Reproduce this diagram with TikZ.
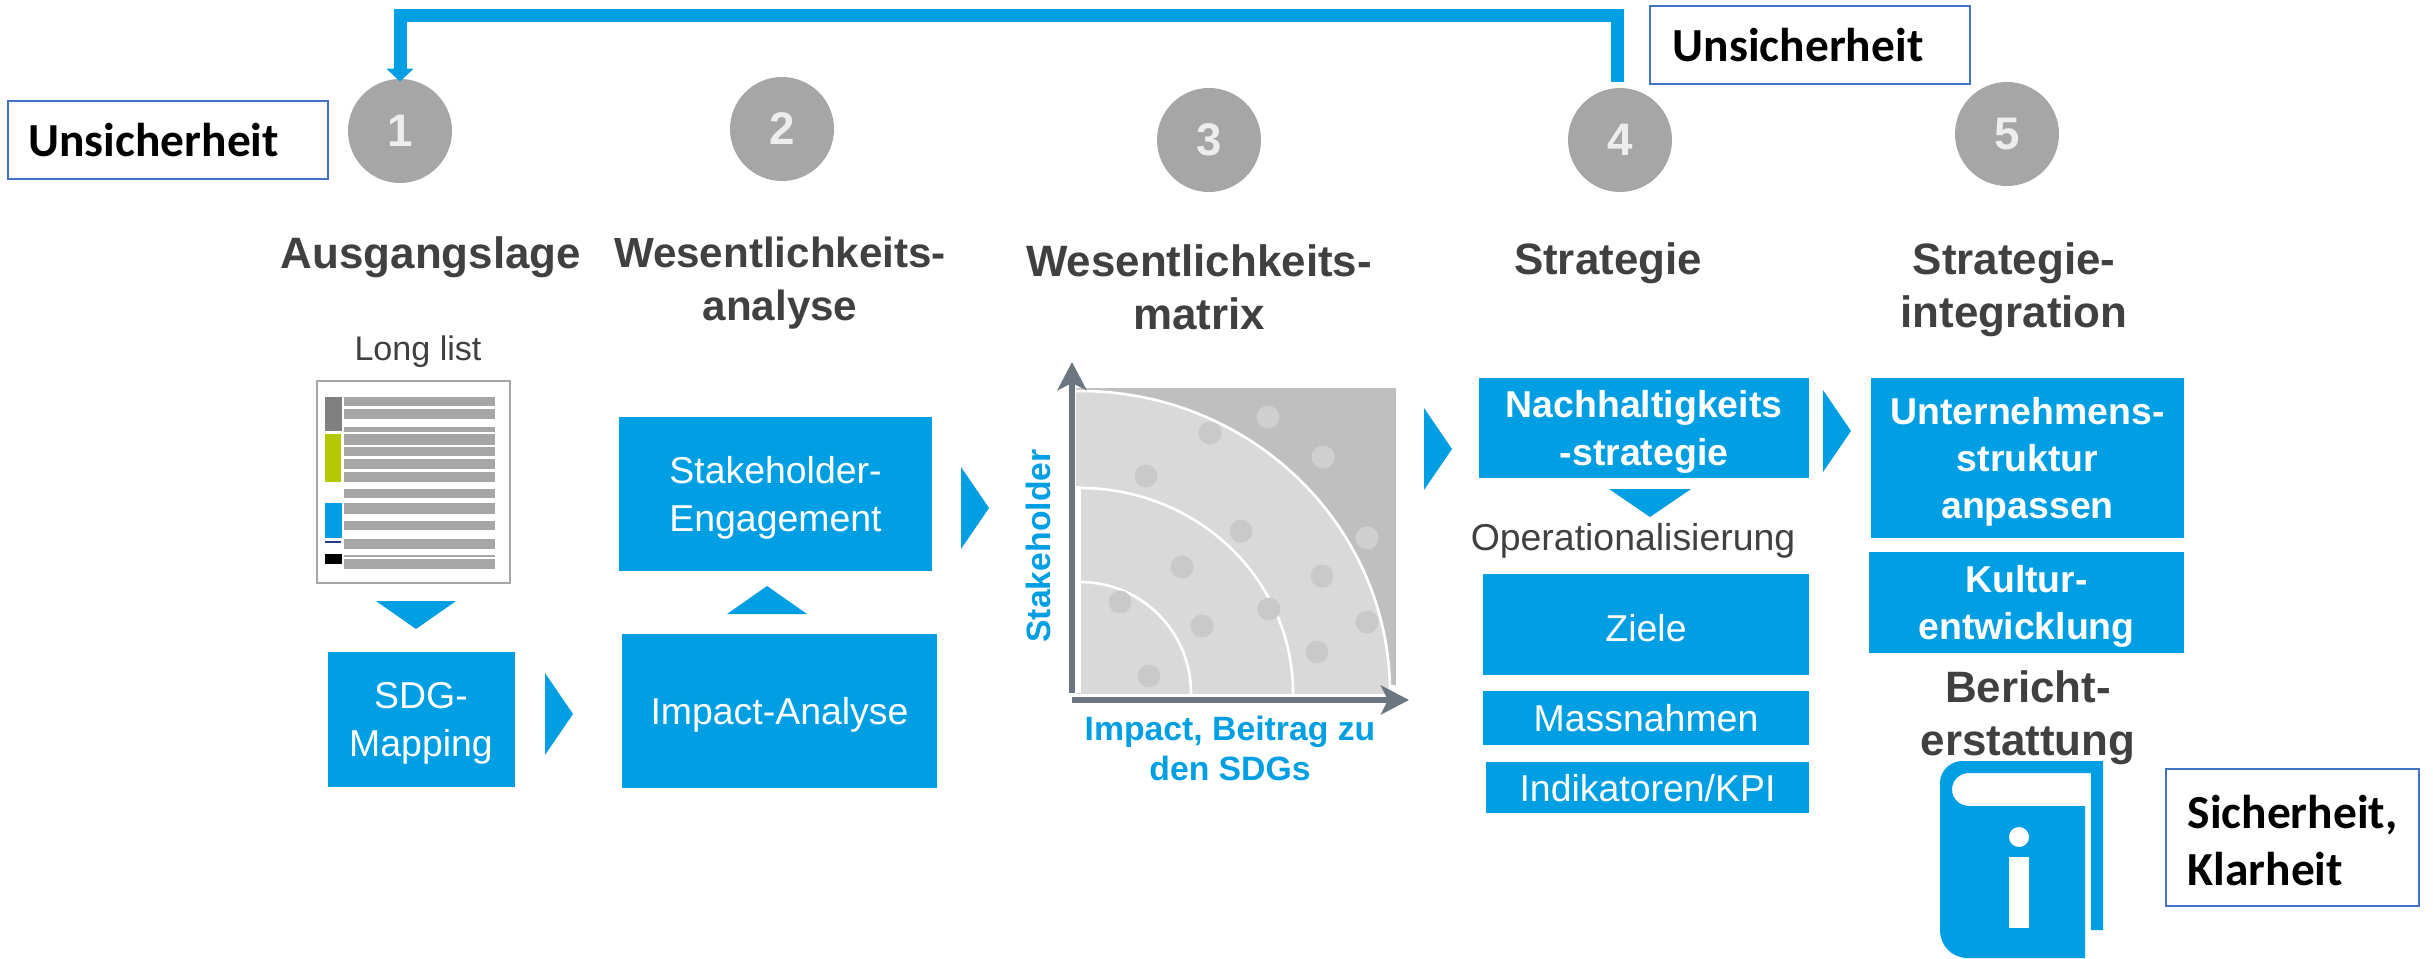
\documentclass[tikz,border=0pt]{standalone}
\usepackage{fontspec}
\setmainfont{Liberation Sans}
\newfontfamily\calibrifont{Carlito}
\usepackage{tikz}
\usetikzlibrary{arrows,arrows.meta,positioning}
\definecolor{sdgblue}{HTML}{009FE3}
\definecolor{headgray}{HTML}{404040}
\definecolor{stepgray}{HTML}{A6A6A6}
\definecolor{axisgray}{HTML}{6B7680}
\definecolor{framegray}{HTML}{4472C4}
\definecolor{listgreen}{HTML}{B2C800}
\definecolor{listnavy}{HTML}{1F3C88}

\begin{document}
\begin{tikzpicture}[
		x=0.02cm, y=-0.02cm,
		heading/.style={font=\fontsize{25}{30}\selectfont\bfseries, text=headgray, align=center},
		plainlabel/.style={font=\fontsize{21.3}{27}\selectfont, text=headgray, align=center},
		stepcircle/.style={circle, fill=stepgray, minimum size=104*0.02cm, inner sep=0pt, font=\fontsize{26}{30}\selectfont\bfseries, text=white!93!black},
		boxsize/.style 2 args={minimum width=#1*0.02cm, minimum height=#2*0.02cm},
		bluebox/.style={fill=sdgblue, text=white, inner sep=0pt, text depth=0pt, align=center, font=\fontsize{21.3}{27}\selectfont},
		boldbox/.style={bluebox, font=\fontsize{21.3}{27}\selectfont\bfseries},
		notebox/.style={draw=framegray, line width=1.3pt, fill=white, inner sep=0pt, font=\fontsize{27}{32.4}\selectfont\calibrifont\bfseries, text=black},
		axislabel/.style={font=\fontsize{19.2}{22.8}\selectfont\bfseries, text=sdgblue, align=center},
		chevron/.style={fill=sdgblue, draw=none},
		feedback/.style={draw=sdgblue, line width=7.4pt, -{Triangle[width=15pt,length=7.4pt]}},
		axis/.style={draw=axisgray, line width=3.6pt, -{Stealth[width=16.5pt,length=16pt,inset=4pt]}}
		]
		\useasboundingbox (0,0) rectangle (2433,959);
		
		% Step circles
		\node[stepcircle] (one) at (400,131) {1};
		\node[stepcircle] (two) at (782,129) {2};
		\node[stepcircle] (three) at (1209,140) {3};
		\node[stepcircle] (four) at (1620,140) {4};
		\node[stepcircle] (five) at (2007,134) {5};
		
		% Feedback from step 4 to step 1
		\coordinate (looptop) at (1000,15.5);
		\draw[feedback, shorten <=3.4pt, shorten >=-1.7pt] ([xshift=-1.5pt]four.north) -- ([xshift=-1.5pt]four.north |- looptop) -| (one.north);
		
		% Note boxes
		\node[notebox, boxsize={320}{78}, text width=320*0.02cm-20*0.02cm, align=left] (noteleft) at (168,140) {\hspace*{6pt}Unsicherheit};
		\node[notebox, boxsize={320}{78}, text width=320*0.02cm-23*0.02cm, align=left] (notetop) at (1810,45) {\hspace*{6.5pt}Unsicherheit};
		\node[notebox, boxsize={253}{137}, align=left, text height=55pt] (noteend) at (2292.5,837.5) {Sicherheit,\\Klarheit};
		
		% Headings
		\node[heading] (headone) at (431,257) {Ausgangslage};
		\node[heading, font=\fontsize{24}{30}\selectfont\bfseries] (headtwo) at (780,283) {Wesentlichkeits-\\analyse};
		\node[heading] (headthree) at (1199,287) {Wesentlichkeits-\\matrix};
		\node[heading] (headfour) at (1608,263) {Strategie};
		\node[heading] (headfive) at (2014,290) {Strategie-\\integration};
		
		% Long list
		\node[plainlabel, font=\fontsize{19.4}{24}\selectfont] (longlist) at (418,352) {Long list};
		\draw[draw=stepgray, line width=1pt, fill=white] (317,381) rectangle (510,583);
		\foreach \top/\bot in {397/406, 409/419, 427/432, 434/445, 447/456, 459/469, 472/482, 489/498, 503/514, 521/530, 539/549, 555/557, 559/569}
		\fill[stepgray] (344,\top) rectangle (495,\bot);
		\fill[gray] (325,397) rectangle (342,431);
		\fill[listgreen] (325,434) rectangle (341,482);
		\fill[sdgblue] (325,503) rectangle (342,538);
		\fill[listnavy] (325,541) rectangle (341,543);
		\fill[black] (325,554) rectangle (342,564);
		
		% Blue boxes
		\node[bluebox, boxsize={187}{135}] (mapping) at (421,719.5) {SDG-\\Mapping};
		\node[bluebox, boxsize={315}{154}] (impact) at (779.5,711) {Impact-Analyse};
		\node[bluebox, boxsize={313}{154}] (engage) at (775.5,494) {Stakeholder-\\Engagement};
		\node[boldbox, boxsize={330}{100}] (strategy) at (1644,428) {Nachhaltigkeits\\-strategie};
		\node[plainlabel] (opera) at (1633,541) {Operationalisierung};
		\node[bluebox, boxsize={326}{101}, text height=19pt] (goals) at (1646,624.5) {Ziele};
		\node[bluebox, boxsize={326}{54}] (measures) at (1646,718) {Massnahmen};
		\node[bluebox, boxsize={323}{51}] (kpi) at (1647.5,787.5) {Indikatoren/KPI};
		\node[boldbox, boxsize={313}{160}] (structure) at (2027.5,458) {Unternehmens-\\struktur\\anpassen};
		\node[boldbox, boxsize={315}{101}] (culture) at (2026.5,602.5) {Kultur-\\entwicklung};
		\node[heading] (report) at (2028,718) {Bericht-\\erstattung};
		
		% Chevrons
		\foreach \tipx/\tipy in {573/714, 989/508, 1452/449, 1851/431}
		\fill[chevron] (\tipx-28,\tipy-41) -- (\tipx,\tipy) -- (\tipx-28,\tipy+41) -- cycle;
		\fill[chevron] (376,601) -- (456,601) -- (416,629) -- cycle;
		\fill[chevron] (727,614) -- (807,614) -- (767,586) -- cycle;
		\fill[chevron] (1609,489) -- (1691,489) -- (1650,517) -- cycle;
		
		% Matrix
		\fill[gray!50] (1076,388) rectangle (1396,685);
		\begin{scope}
		\clip (1076,388) rectangle (1396,693);
		\fill[gray!30] (1080,693) circle [x radius=310, y radius=302];
		\fill[white] (1076,486) rectangle (1081,693);
		\draw[white, line width=1.5pt] (1080,693) circle [x radius=310, y radius=302];
		\draw[white, line width=1.5pt] (1080,693) circle [x radius=213, y radius=205];
		\draw[white, line width=1.5pt] (1080,693) circle [x radius=111, y radius=111];
		\end{scope}
		\foreach \dotx/\doty in {1268/417, 1323/457, 1367/538}
		\fill[gray!38] (\dotx,\doty) circle (11.5);
		\foreach \dotx/\doty in {1210/433, 1146/476, 1241/531, 1182/567, 1322/576, 1367/622, 1269/609, 1202/626, 1317/652, 1120/602, 1149/676}
		\fill[gray!42] (\dotx,\doty) circle (11.5);
		
		% Draw axes
		\coordinate (ybase) at (1072,693);
		\coordinate (ytip) at (1072,362);
		\coordinate (xbase) at (1072,700);
		\coordinate (xtip) at (1409,700);
		\draw[axis] (ybase) -- (ytip);
		\draw[axis] (xbase) -- (xtip);
		\node[axislabel, rotate=90] (ylabel) at (1038,546) {Stakeholder};
		\node[axislabel] (xlabel) at (1230,748) {Impact, Beitrag zu\\den SDGs};
		
		% Report book
		\fill[sdgblue] (1962,761) -- (2103,761) -- (2103,930) -- (2091,930) -- (2091,773) -- (1969,773)
		.. controls (1960,773) and (1952,780) .. (1952,789.5)
		.. controls (1952,799) and (1960,806) .. (1969,806)
		-- (2085,806) -- (2085,958) -- (1968,958)
		.. controls (1952,958) and (1940,946) .. (1940,930)
		-- (1940,783) .. controls (1940,771) and (1950,761) .. (1962,761) -- cycle;
		\fill[white] (2019,837) circle (10);
		\fill[white] (2009,857) rectangle (2029,928);
\end{tikzpicture}
\end{document}
